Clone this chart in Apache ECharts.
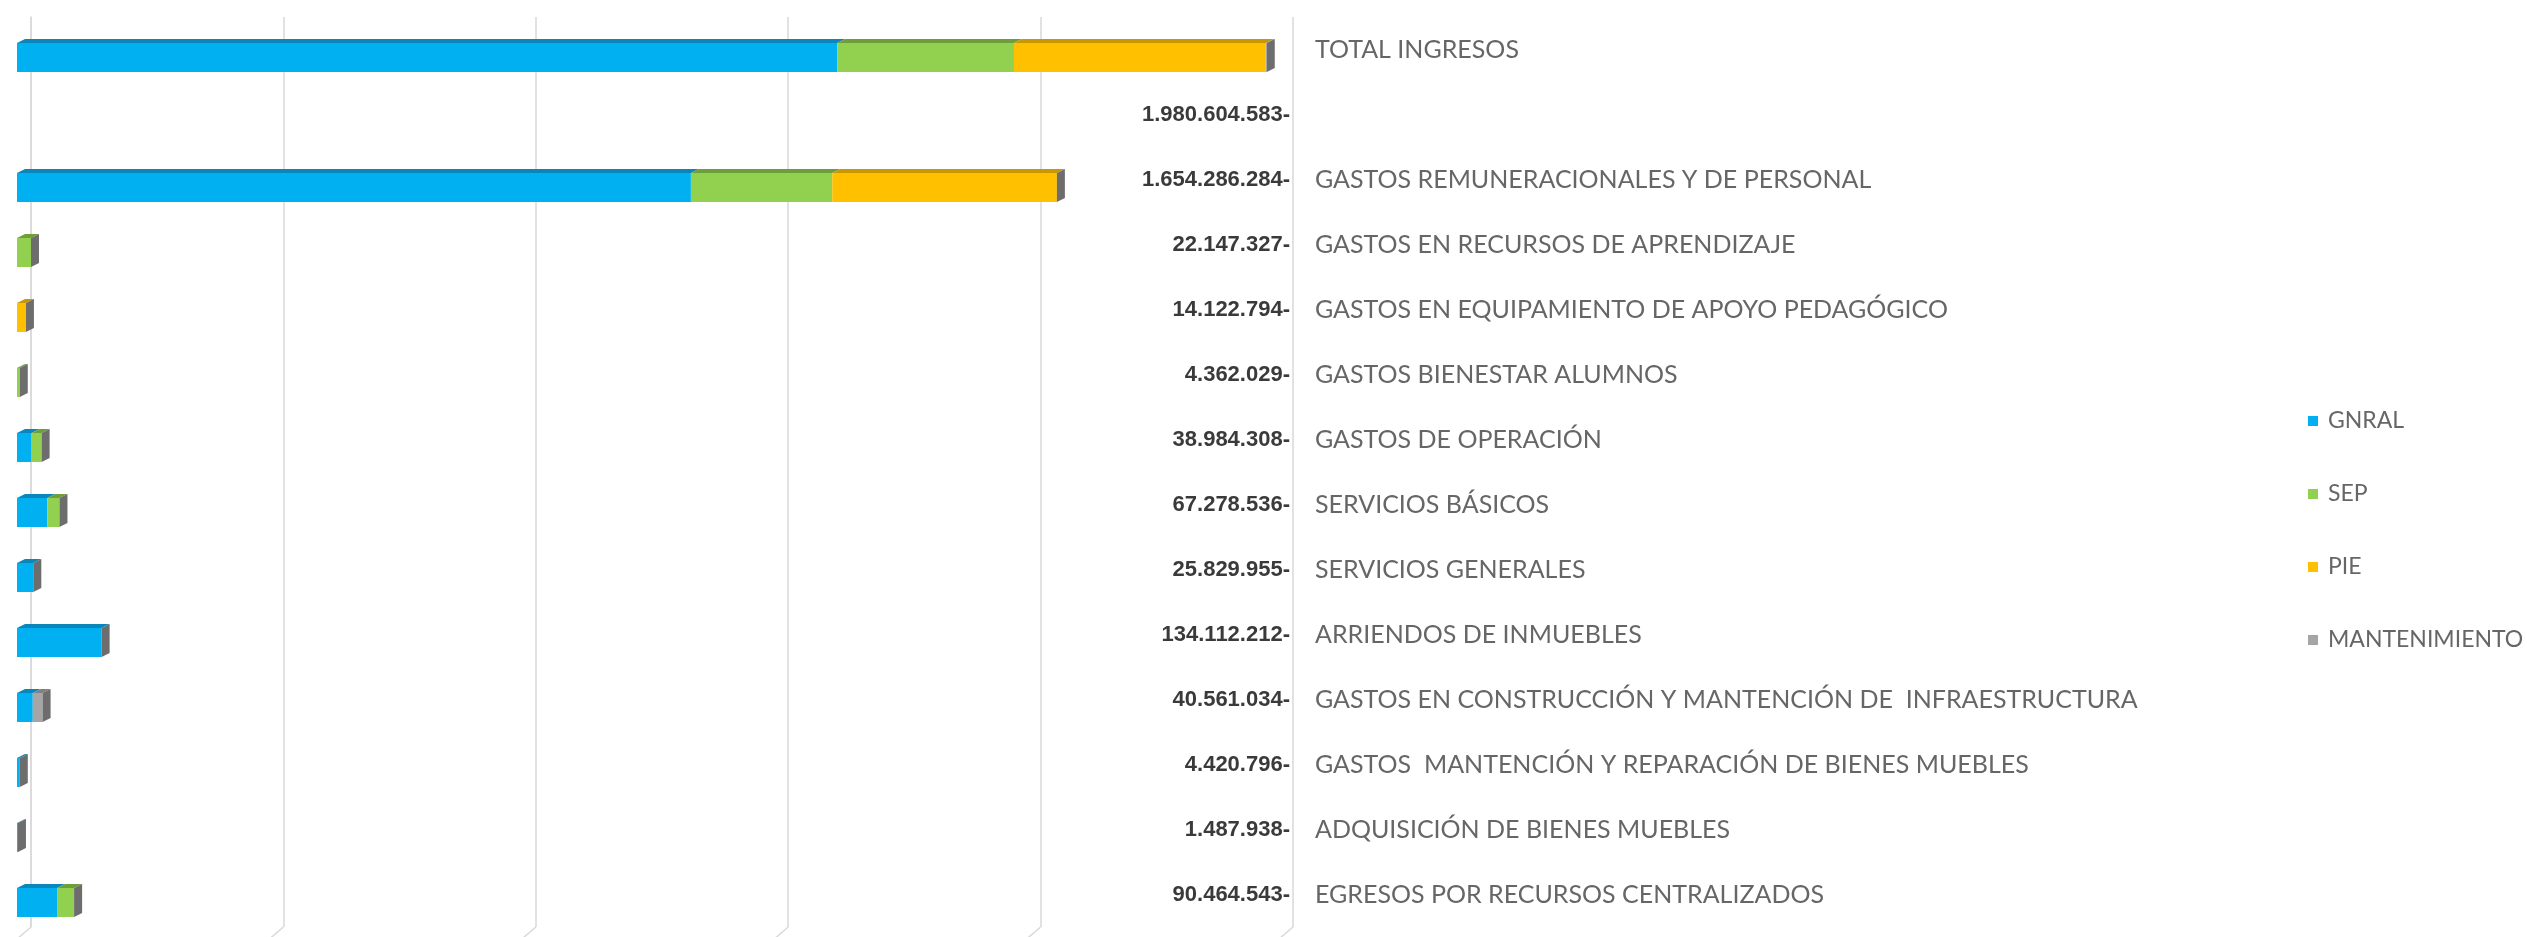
<!DOCTYPE html>
<html>
	<head>
		<title>Ingresos y gastos por subvención</title>
		<meta charset="utf-8">
		<script type="text/javascript" src="https://cdn.jsdelivr.net/npm/echarts@6/dist/echarts.min.js"></script>
		<style>
			html, body { margin: 0; padding: 0; background: #fff; }
			#chart { width: 2527px; height: 937px; }
		</style>
	</head>
	<body>
		<div id="chart"></div>
	</body>
	<script type="text/javascript">
		// filas de arriba hacia abajo (la segunda fila va vacía, como en el original)
		var categories = [
			'TOTAL INGRESOS',
			'',
			'GASTOS REMUNERACIONALES Y DE PERSONAL',
			'GASTOS EN RECURSOS DE APRENDIZAJE',
			'GASTOS EN EQUIPAMIENTO DE APOYO PEDAGÓGICO',
			'GASTOS BIENESTAR ALUMNOS',
			'GASTOS DE OPERACIÓN',
			'SERVICIOS BÁSICOS',
			'SERVICIOS GENERALES',
			'ARRIENDOS DE INMUEBLES',
			'GASTOS EN CONSTRUCCIÓN Y MANTENCIÓN DE  INFRAESTRUCTURA',
			'GASTOS  MANTENCIÓN Y REPARACIÓN DE BIENES MUEBLES',
			'ADQUISICIÓN DE BIENES MUEBLES',
			'EGRESOS POR RECURSOS CENTRALIZADOS'
		];
		var totalLabels = [
			' ', '1.980.604.583-', '1.654.286.284-', '22.147.327-', '14.122.794-', '4.362.029-', '38.984.308-',
			'67.278.536-', '25.829.955-', '134.112.212-', '40.561.034-', '4.420.796-', '1.487.938-', '90.464.543-'
		];
		var gnral = [1300000000, 0, 1068000000, 0, 0, 0, 23000000, 48000000, 25830000, 134110000, 25000000, 4420000, 1490000, 63500000];
		var sep   = [280000000, 0, 224000000, 22150000, 0, 4360000, 16000000, 19300000, 0, 0, 0, 0, 0, 27000000];
		var pie   = [399000000, 0, 356000000, 0, 14120000, 0, 0, 0, 0, 0, 0, 0, 0, 0];
		var mant  = [1600000, 0, 0, 0, 0, 0, 0, 0, 0, 0, 15560000, 0, 0, 0];
		var seriesNames = ['GNRAL', 'SEP', 'PIE', 'MANTENIMIENTO'];
		var xTicks = [0, 400000000, 800000000, 1200000000, 1600000000, 2000000000];

		var app = {
			data: {
				chart: null,
				faces: ['#00B0F0', '#92D050', '#FFC000', '#A5A5A5'],
				tops: ['#0a86bb', '#6e9e3a', '#c99700', '#808080'],
				side: '#6d6d6d',
				depthX: 8, depthY: 4,     // cara superior / lateral
				shiftX: -14, shiftY: 8,   // cara frontal respecto al fondo
				half: 14.5
			},
			methods: {
				// [inicio, fin, fila, total] para apilar a mano
				stackData: function (lists) {
					var out = lists.map(function () { return []; });
					for (var i = 0; i < categories.length; i++) {
						var acc = 0, total = 0;
						lists.forEach(function (l) { total += l[i]; });
						lists.forEach(function (l, k) {
							out[k].push([acc, acc + l[i], i, total]);
							acc += l[i];
						});
					}
					return out;
				},
				boxRenderer: function (k, withSide) {
					var d = app.data;
					return function (params, api) {
						var row = api.value(2);
						var a = api.coord([api.value(0), row]);
						var b = api.coord([api.value(1), row]);
						var x0 = a[0] + d.shiftX, x1 = b[0] + d.shiftX;
						var yc = a[1] + d.shiftY;
						var yT = yc - d.half, yB = yc + d.half;
						var children = [];
						if (x1 - x0 > 0.2) {
							children.push({
								type: 'polygon',
								shape: { points: [[x0, yT], [x0 + d.depthX, yT - d.depthY], [x1 + d.depthX, yT - d.depthY], [x1, yT]] },
								style: { fill: d.tops[k] }
							});
							children.push({
								type: 'rect',
								shape: { x: x0, y: yT, width: x1 - x0, height: yB - yT },
								style: { fill: d.faces[k] }
							});
						}
						if (withSide && api.value(3) > 0) {
							children.push({
								type: 'polygon',
								shape: { points: [[x1, yT], [x1 + d.depthX, yT - d.depthY], [x1 + d.depthX, yB - d.depthY], [x1, yB]] },
								style: { fill: d.side }
							});
						}
						return { type: 'group', children: children };
					};
				},
				floorRenderer: function (params, api) {
					var p = api.coord([api.value(0), api.value(1)]);
					var yb = p[1] + api.size([0, 1])[1] / 2;
					return {
						type: 'line',
						shape: { x1: p[0], y1: yb, x2: p[0] - 14, y2: yb + 12 },
						style: { stroke: '#d9d9d9', lineWidth: 1.5 }
					};
				},
				buildOption: function () {
					var stacked = app.methods.stackData([gnral, sep, pie, mant]);
					var series = seriesNames.map(function (name, k) {
						return {
							name: name,
							type: 'custom',
							xAxisIndex: 0,
							yAxisIndex: 0,
							itemStyle: { color: app.data.faces[k] },
							encode: { x: [0, 1], y: 2 },
							renderItem: app.methods.boxRenderer(k, k === seriesNames.length - 1),
							data: stacked[k],
							silent: true
						};
					});
					series.push({
						type: 'custom',
						xAxisIndex: 0,
						yAxisIndex: 0,
						encode: { x: 0, y: 1 },
						renderItem: app.methods.floorRenderer,
						data: xTicks.map(function (t) { return [t, categories.length - 1]; }),
						silent: true,
						z: 1
					});
					return {
						animation: false,
						backgroundColor: '#fff',
						grid: { left: 31, width: 1262, top: 17, height: 910, containLabel: false, outerBoundsMode: 'none' },
						legend: {
							orient: 'vertical',
							left: 2303, top: 404,
							itemWidth: 10, itemHeight: 10, itemGap: 49,
							data: seriesNames.map(function (n) { return { name: n, icon: 'rect' }; }),
							textStyle: { fontFamily: 'Lato', fontSize: 23, color: '#666666', lineHeight: 24, padding: [0, 0, 0, 5] }
						},
						xAxis: {
							type: 'value', min: 0, max: 2000000000, interval: 400000000,
							axisLine: { show: false }, axisTick: { show: false }, axisLabel: { show: false },
							splitLine: { show: true, lineStyle: { color: '#d9d9d9', width: 1.5 } }
						},
						yAxis: [{
							type: 'category', data: categories, inverse: true, position: 'right',
							axisLine: { show: true, lineStyle: { color: '#d9d9d9', width: 1.5 } },
							axisTick: { show: false },
							axisLabel: { margin: 22, fontFamily: 'Lato', fontSize: 25, color: '#666666' }
						}, {
							type: 'category', data: totalLabels, inverse: true, position: 'right',
							axisLine: { show: false }, axisTick: { show: false },
							axisLabel: { inside: true, margin: 3, fontFamily: 'Liberation Sans', fontWeight: 'bold', fontSize: 22, color: '#3a3a3a' }
						}],
						series: series
					};
				}
			},
			init: function () {
				app.data.chart = echarts.init(document.getElementById('chart'));
				app.data.chart.setOption(app.methods.buildOption());
			}
		};
		app.init();
	</script>
</html>
